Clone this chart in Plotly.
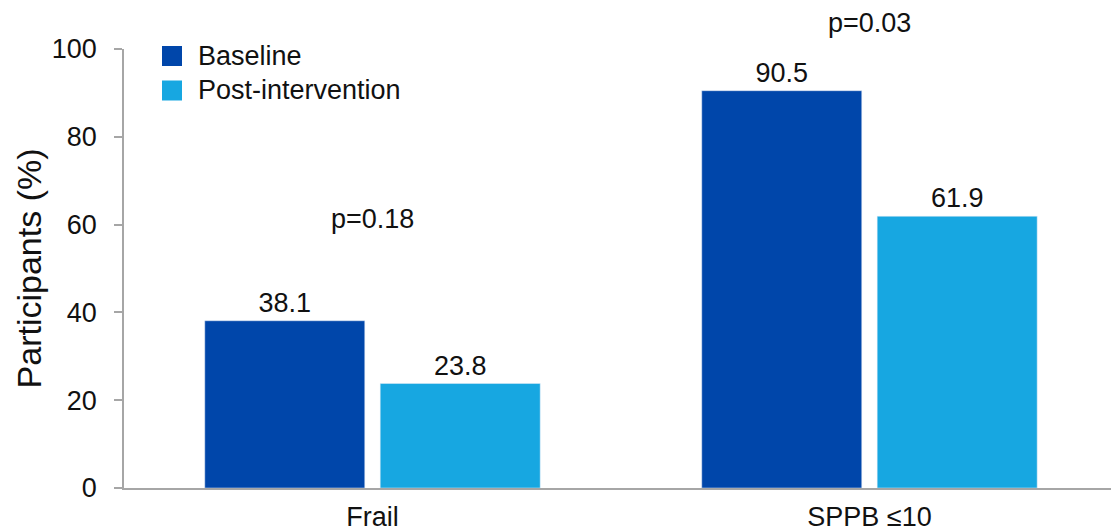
import plotly.graph_objects as go

categories = ["Frail", "SPPB ≤10"]
baseline = [38.1, 90.5]
post = [23.8, 61.9]
series_names = ["Baseline", "Post-intervention"]
p_labels = ["p=0.18", "p=0.03"]
y_ticks = [0, 20, 40, 60, 80, 100]

c_base = "#0046AA"
c_post = "#17A7E1"
font = "Liberation Sans, Arial, sans-serif"
fs = 27

fig = go.Figure()
fig.add_trace(go.Bar(x=categories, y=baseline, name=series_names[0], marker_color=c_base,
                     text=[f"{v:.1f}" for v in baseline], textposition="outside",
                     textfont=dict(size=fs, color="#111"), cliponaxis=False))
fig.add_trace(go.Bar(x=categories, y=post, name=series_names[1], marker_color=c_post,
                     text=[f"{v:.1f}" for v in post], textposition="outside",
                     textfont=dict(size=fs, color="#111"), cliponaxis=False))

# p-value annotations
fig.add_annotation(x=categories[0], y=61.3, xref="x", yref="y", text=p_labels[0],
                   showarrow=False, font=dict(size=fs, color="#111"))
fig.add_annotation(x=categories[1], y=(488 - 23) / 439, xref="x", yref="paper", text=p_labels[1],
                   showarrow=False, font=dict(size=fs, color="#111"), yanchor="middle")

# y-axis title
fig.add_annotation(x=-0.0963, y=0.5, xref="paper", yref="paper", text="Participants (%)",
                   textangle=-90, showarrow=False, font=dict(size=34, color="#111"),
                   xanchor="center", yanchor="middle")

# manual legend
colors = [c_base, c_post]
for i, (name, col) in enumerate(zip(series_names, colors)):
    y0 = 66 + i * 34.5
    fig.add_shape(type="rect", xref="paper", yref="paper",
                  x0=(162 - 124) / 987, x1=(182 - 124) / 987,
                  y0=(488 - y0) / 439, y1=(488 - y0 + 20) / 439,
                  fillcolor=col, line=dict(width=0))
    fig.add_annotation(x=(196 - 124) / 987, y=(488 - y0 + 10) / 439, xref="paper", yref="paper",
                       text=name, showarrow=False, xanchor="left", yanchor="middle",
                       font=dict(size=fs, color="#111"))

fig.update_layout(
    width=1111, height=531,
    margin=dict(l=124, r=0, t=49, b=43),
    paper_bgcolor="white", plot_bgcolor="white",
    barmode="group", bargap=0.294, bargroupgap=0.088,
    showlegend=False,
    font=dict(family=font, size=fs, color="#111"),
)
fig.update_xaxes(range=[-0.5, 1.486], showline=True, linecolor="#A6A6A6", linewidth=1.5,
                 ticks="", showgrid=False, tickfont=dict(size=fs, color="#111"),
                 ticklabelstandoff=4)
fig.update_yaxes(range=[0, 100], tickvals=y_ticks, showline=True, linecolor="#A6A6A6",
                 linewidth=1.5, ticks="outside", ticklen=8, tickcolor="#A6A6A6", tickwidth=1.5,
                 showgrid=False, zeroline=False, tickfont=dict(size=fs, color="#111"),
                 ticklabelstandoff=12)

fig.write_html("out.html")
